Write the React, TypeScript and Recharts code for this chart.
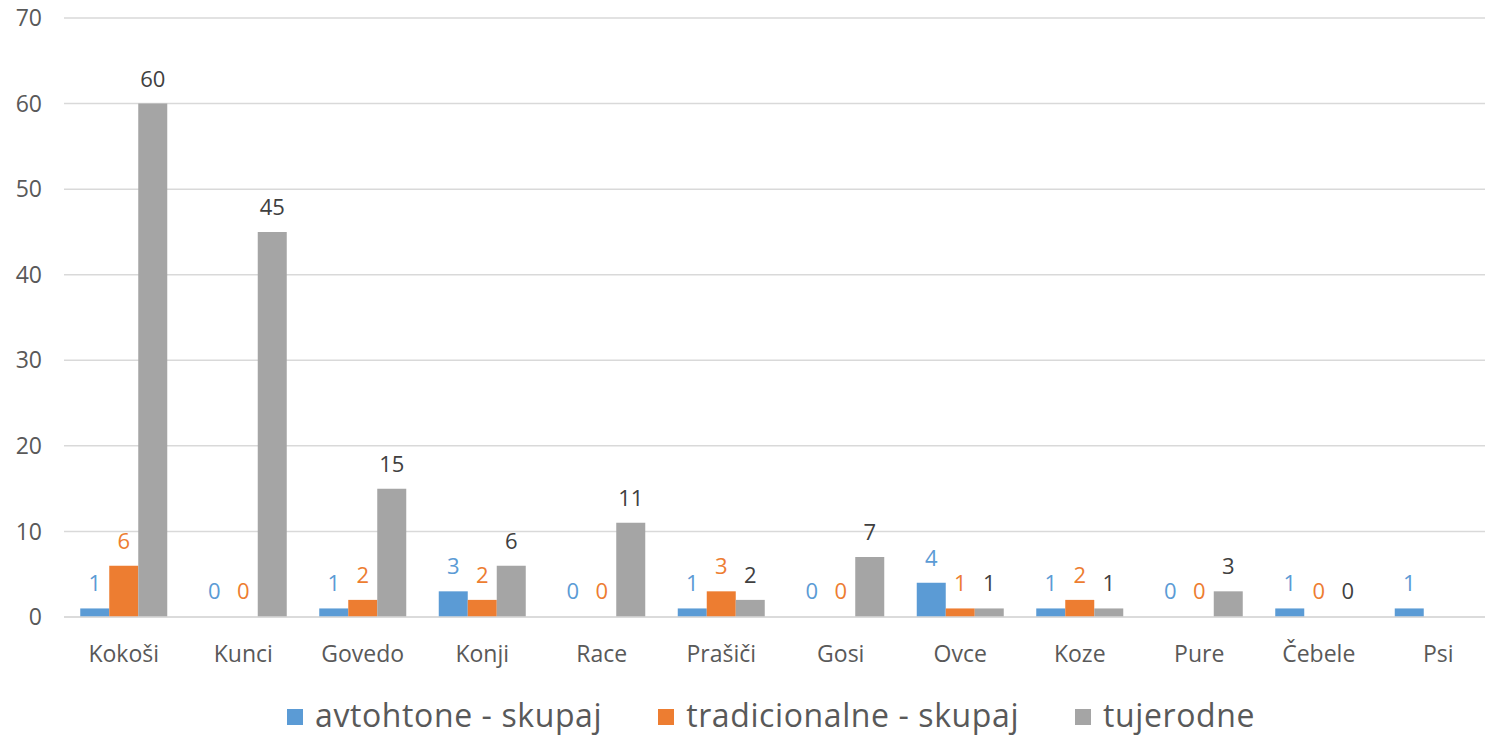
import React from 'react';
import { BarChart, Bar, XAxis, YAxis, CartesianGrid, LabelList, Cell } from 'recharts';

const categories = ['Kokoši', 'Kunci', 'Govedo', 'Konji', 'Race', 'Prašiči', 'Gosi', 'Ovce', 'Koze', 'Pure', 'Čebele', 'Psi'];
const avtohtone = [1, 0, 1, 3, 0, 1, 0, 4, 1, 0, 1, 1];
const tradicionalne = [6, 0, 2, 2, 0, 3, 0, 1, 2, 0, 0, null];
const tujerodne = [60, 45, 15, 6, 11, 2, 7, 1, 1, 3, 0, null];
const yTicks = [0, 10, 20, 30, 40, 50, 60, 70];

const seriesNames = ['avtohtone - skupaj', 'tradicionalne - skupaj', 'tujerodne'];
const colors = ['#5B9BD5', '#ED7D31', '#A5A5A5'];
const labelColors = ['#5B9BD5', '#ED7D31', '#404040'];
const seriesValues = [avtohtone, tradicionalne, tujerodne];

const data = categories.map((c, i) => ({
  name: c,
  a: avtohtone[i],
  t: tradicionalne[i],
  j: tujerodne[i],
}));

const FONT = '"Open Sans", sans-serif';

const Legend = () => (
  <div
    style={{
      position: 'absolute',
      left: 287,
      bottom: 0,
      display: 'flex',
      alignItems: 'center',
      fontFamily: FONT,
      fontSize: 32,
      letterSpacing: '0.6px',
      lineHeight: 'normal',
      color: '#595959',
      whiteSpace: 'nowrap',
    }}
  >
    {seriesNames.map((n, i) => (
      <div key={n} style={{ display: 'flex', alignItems: 'center', marginRight: i < 2 ? 56 : 0 }}>
        <span style={{ display: 'inline-block', width: 16, height: 16, background: colors[i], marginRight: 12, marginTop: 4 }} />
        <span>{n}</span>
      </div>
    ))}
  </div>
);

export default function App() {
  const keys = ['a', 't', 'j'];
  return (
    <div
      style={{
        position: 'absolute',
        left: 0,
        top: 0,
        width: 1485,
        height: 736,
        background: '#fff',
        overflow: 'hidden',
      }}
    >
      <BarChart
        width={1500}
        height={736}
        data={data}
        margin={{ top: 18, right: 2, left: 0, bottom: 59 }}
        barCategoryGap="13.6%"
        barGap={0}
      >
        <CartesianGrid vertical={false} stroke="#D9D9D9" strokeWidth={1.5} />
        <XAxis
          dataKey="name"
          tickLine={false}
          axisLine={{ stroke: '#D9D9D9', strokeWidth: 1.5 }}
          tick={{ fill: '#595959', fontSize: 23, fontFamily: FONT }}
          tickMargin={23}
          interval={0}
          height={60}
        />
        <YAxis
          domain={[0, 70]}
          ticks={yTicks}
          tickLine={false}
          axisLine={false}
          width={64}
          tickMargin={16}
          tick={{ fill: '#595959', fontSize: 23, fontFamily: FONT }}
          interval={0}
        />
        {keys.map((k, i) => (
          <Bar
            key={k}
            dataKey={k}
            name={seriesNames[i]}
            fill={colors[i]}
            isAnimationActive={false}
            minPointSize={(v: any) => (v === 0 ? 1 : 0)}
          >
            {data.map((d, j) => (
              <Cell key={j} fill={seriesValues[i][j] === 0 ? 'transparent' : colors[i]} />
            ))}
            <LabelList
              dataKey={k}
              position="top"
              offset={17}
              fill={labelColors[i]}
              style={{ fontSize: 22, fontFamily: FONT }}
            />
          </Bar>
        ))}
      </BarChart>
      <Legend />
    </div>
  );
}
